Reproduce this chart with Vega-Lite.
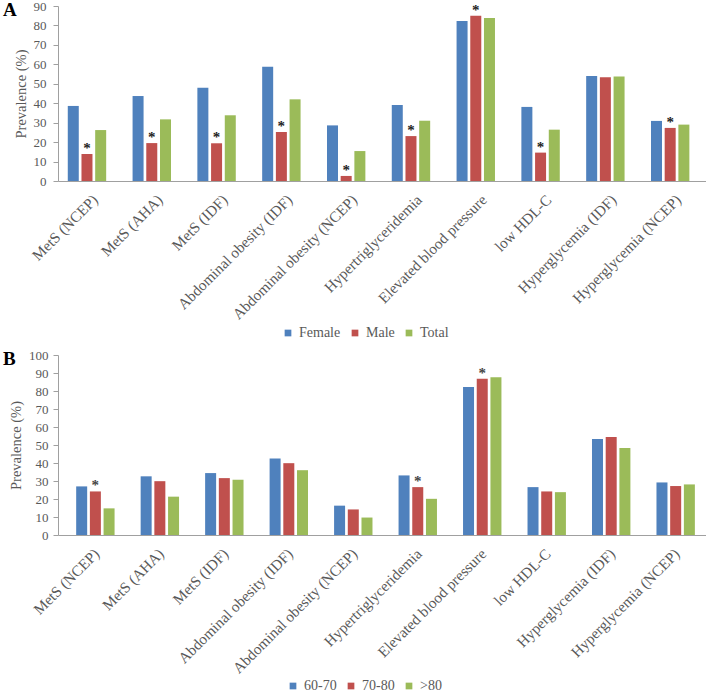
{
  "$schema": "https://vega.github.io/schema/vega-lite/v6.json",
  "padding": {"left": 3, "top": 0, "right": 0, "bottom": 0},
  "spacing": 9,
  "config": {
    "font": "Liberation Serif",
    "view": {"stroke": null},
    "axis": {
      "labelFont": "Liberation Serif", "labelFontSize": 13, "labelColor": "#595959",
      "titleFont": "Liberation Serif", "titleFontSize": 14.5, "titleFontWeight": "normal", "titleColor": "#595959",
      "domainColor": "#A0A0A0", "tickColor": "#A0A0A0", "grid": false
    },
    "legend": {
      "labelFont": "Liberation Serif", "labelFontSize": 14, "labelColor": "#595959",
      "symbolType": "square", "symbolSize": 45, "symbolStrokeWidth": 0, "columnPadding": 7, "labelOffset": 4
    },
    "title": {"font": "Liberation Serif", "fontSize": 19, "fontWeight": "bold", "color": "#000000", "anchor": "start", "frame": "group"}
  },
  "datasets": {
    "a": [
      {"cat": "MetS (NCEP)", "grp": "Female", "val": 38.6, "sig": ""},
      {"cat": "MetS (NCEP)", "grp": "Male", "val": 13.9, "sig": "*"},
      {"cat": "MetS (NCEP)", "grp": "Total", "val": 26.2, "sig": ""},
      {"cat": "MetS (AHA)", "grp": "Female", "val": 43.7, "sig": ""},
      {"cat": "MetS (AHA)", "grp": "Male", "val": 19.5, "sig": "*"},
      {"cat": "MetS (AHA)", "grp": "Total", "val": 31.7, "sig": ""},
      {"cat": "MetS (IDF)", "grp": "Female", "val": 48.0, "sig": ""},
      {"cat": "MetS (IDF)", "grp": "Male", "val": 19.4, "sig": "*"},
      {"cat": "MetS (IDF)", "grp": "Total", "val": 33.8, "sig": ""},
      {"cat": "Abdominal obesity (IDF)", "grp": "Female", "val": 58.8, "sig": ""},
      {"cat": "Abdominal obesity (IDF)", "grp": "Male", "val": 25.2, "sig": "*"},
      {"cat": "Abdominal obesity (IDF)", "grp": "Total", "val": 42.0, "sig": ""},
      {"cat": "Abdominal obesity (NCEP)", "grp": "Female", "val": 28.6, "sig": ""},
      {"cat": "Abdominal obesity (NCEP)", "grp": "Male", "val": 2.6, "sig": "*"},
      {"cat": "Abdominal obesity (NCEP)", "grp": "Total", "val": 15.4, "sig": ""},
      {"cat": "Hypertriglyceridemia", "grp": "Female", "val": 39.1, "sig": ""},
      {"cat": "Hypertriglyceridemia", "grp": "Male", "val": 23.1, "sig": "*"},
      {"cat": "Hypertriglyceridemia", "grp": "Total", "val": 31.0, "sig": ""},
      {"cat": "Elevated blood pressure", "grp": "Female", "val": 82.3, "sig": ""},
      {"cat": "Elevated blood pressure", "grp": "Male", "val": 85.0, "sig": "*"},
      {"cat": "Elevated blood pressure", "grp": "Total", "val": 83.8, "sig": ""},
      {"cat": "low HDL-C", "grp": "Female", "val": 38.1, "sig": ""},
      {"cat": "low HDL-C", "grp": "Male", "val": 14.6, "sig": "*"},
      {"cat": "low HDL-C", "grp": "Total", "val": 26.4, "sig": ""},
      {"cat": "Hyperglycemia (IDF)", "grp": "Female", "val": 54.0, "sig": ""},
      {"cat": "Hyperglycemia (IDF)", "grp": "Male", "val": 53.3, "sig": ""},
      {"cat": "Hyperglycemia (IDF)", "grp": "Total", "val": 53.8, "sig": ""},
      {"cat": "Hyperglycemia (NCEP)", "grp": "Female", "val": 30.9, "sig": ""},
      {"cat": "Hyperglycemia (NCEP)", "grp": "Male", "val": 27.3, "sig": "*"},
      {"cat": "Hyperglycemia (NCEP)", "grp": "Total", "val": 29.0, "sig": ""}
    ],
    "b": [
      {"cat": "MetS (NCEP)", "grp": "60-70", "val": 27.0, "sig": ""},
      {"cat": "MetS (NCEP)", "grp": "70-80", "val": 24.2, "sig": "*"},
      {"cat": "MetS (NCEP)", "grp": ">80", "val": 14.8, "sig": ""},
      {"cat": "MetS (AHA)", "grp": "60-70", "val": 32.6, "sig": ""},
      {"cat": "MetS (AHA)", "grp": "70-80", "val": 29.9, "sig": ""},
      {"cat": "MetS (AHA)", "grp": ">80", "val": 21.3, "sig": ""},
      {"cat": "MetS (IDF)", "grp": "60-70", "val": 34.4, "sig": ""},
      {"cat": "MetS (IDF)", "grp": "70-80", "val": 31.6, "sig": ""},
      {"cat": "MetS (IDF)", "grp": ">80", "val": 30.7, "sig": ""},
      {"cat": "Abdominal obesity (IDF)", "grp": "60-70", "val": 42.5, "sig": ""},
      {"cat": "Abdominal obesity (IDF)", "grp": "70-80", "val": 39.9, "sig": ""},
      {"cat": "Abdominal obesity (IDF)", "grp": ">80", "val": 36.0, "sig": ""},
      {"cat": "Abdominal obesity (NCEP)", "grp": "60-70", "val": 16.3, "sig": ""},
      {"cat": "Abdominal obesity (NCEP)", "grp": "70-80", "val": 14.2, "sig": ""},
      {"cat": "Abdominal obesity (NCEP)", "grp": ">80", "val": 9.7, "sig": ""},
      {"cat": "Hypertriglyceridemia", "grp": "60-70", "val": 33.1, "sig": ""},
      {"cat": "Hypertriglyceridemia", "grp": "70-80", "val": 26.6, "sig": "*"},
      {"cat": "Hypertriglyceridemia", "grp": ">80", "val": 20.1, "sig": ""},
      {"cat": "Elevated blood pressure", "grp": "60-70", "val": 82.2, "sig": ""},
      {"cat": "Elevated blood pressure", "grp": "70-80", "val": 86.8, "sig": "*"},
      {"cat": "Elevated blood pressure", "grp": ">80", "val": 87.6, "sig": ""},
      {"cat": "low HDL-C", "grp": "60-70", "val": 26.6, "sig": ""},
      {"cat": "low HDL-C", "grp": "70-80", "val": 24.2, "sig": ""},
      {"cat": "low HDL-C", "grp": ">80", "val": 23.8, "sig": ""},
      {"cat": "Hyperglycemia (IDF)", "grp": "60-70", "val": 53.4, "sig": ""},
      {"cat": "Hyperglycemia (IDF)", "grp": "70-80", "val": 54.5, "sig": ""},
      {"cat": "Hyperglycemia (IDF)", "grp": ">80", "val": 48.4, "sig": ""},
      {"cat": "Hyperglycemia (NCEP)", "grp": "60-70", "val": 29.2, "sig": ""},
      {"cat": "Hyperglycemia (NCEP)", "grp": "70-80", "val": 27.2, "sig": ""},
      {"cat": "Hyperglycemia (NCEP)", "grp": ">80", "val": 28.1, "sig": ""}
    ]
  },
  "vconcat": [
    {
      "title": {"text": "A", "offset": -20, "dx": -55},
      "width": 648,
      "height": 175,
      "data": {"name": "a"},
      "encoding": {
        "x": {"field": "cat", "type": "nominal", "sort": null,
          "scale": {"type": "band", "paddingInner": 0.39, "paddingOuter": 0.195},
          "axis": {"title": null, "labelAngle": -45, "labelFontSize": 15.2, "ticks": false, "labelPadding": 11, "labelLimit": 250}},
        "xOffset": {"field": "grp", "type": "nominal", "sort": ["Female", "Male", "Total"], "scale": {"type": "band", "paddingInner": 0.23, "paddingOuter": 0}},
        "y": {"field": "val", "type": "quantitative", "scale": {"domain": [0, 90], "nice": false},
          "axis": {"title": "Prevalence (%)", "values": [0, 10, 20, 30, 40, 50, 60, 70, 80, 90], "tickSize": 5, "labelPadding": 7, "titlePadding": 5}}
      },
      "layer": [
        {"mark": {"type": "bar", "width": 11},
          "encoding": {
            "color": {"field": "grp", "type": "nominal",
            "scale": {"domain": ["Female", "Male", "Total"], "range": ["#4F81BD", "#C0504D", "#9BBB59"]},
            "legend": {"orient": "none", "direction": "horizontal", "title": null, "legendX": 223, "legendY": 320}}}},
        {"mark": {"type": "text", "baseline": "alphabetic", "dy": -1, "fontSize": 15, "fontWeight": "bold", "color": "#222222"},
          "encoding": {"text": {"field": "sig"}}}
      ]
    },
    {
      "title": {"text": "B", "offset": -20, "dx": -55},
      "width": 648,
      "height": 180,
      "data": {"name": "b"},
      "encoding": {
        "x": {"field": "cat", "type": "nominal", "sort": null,
          "scale": {"type": "band", "paddingInner": 0.39, "paddingOuter": 0.22},
          "axis": {"title": null, "labelAngle": -45, "labelFontSize": 15.2, "ticks": false, "labelPadding": 11, "labelLimit": 250}},
        "xOffset": {"field": "grp", "type": "nominal", "sort": ["60-70", "70-80", ">80"], "scale": {"type": "band", "paddingInner": 0.23, "paddingOuter": 0}},
        "y": {"field": "val", "type": "quantitative", "scale": {"domain": [0, 100], "nice": false},
          "axis": {"title": "Prevalence (%)", "values": [0, 10, 20, 30, 40, 50, 60, 70, 80, 90, 100], "tickSize": 5, "labelPadding": 5, "titlePadding": 5}}
      },
      "layer": [
        {"mark": {"type": "bar", "width": 11},
          "encoding": {
            "color": {"field": "grp", "type": "nominal",
            "scale": {"domain": ["60-70", "70-80", ">80"], "range": ["#4F81BD", "#C0504D", "#9BBB59"]},
            "legend": {"orient": "none", "direction": "horizontal", "title": null, "legendX": 228, "legendY": 324}}}},
        {"mark": {"type": "text", "baseline": "alphabetic", "dy": -1, "fontSize": 15, "fontWeight": "bold", "color": "#444444"},
          "encoding": {"text": {"field": "sig"}}}
      ]
    }
  ],
  "resolve": {"scale": {"color": "independent"}}
}
